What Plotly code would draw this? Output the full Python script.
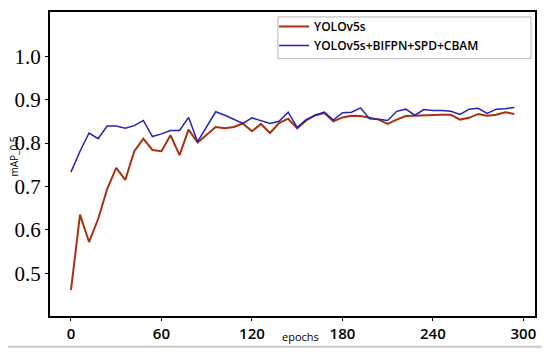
import plotly.graph_objects as go

epochs = [0, 6, 12, 18, 24, 30, 36, 42, 48, 54, 60, 66, 72, 78, 84, 90, 96, 102, 108, 114,
          120, 126, 132, 138, 144, 150, 156, 162, 168, 174, 180, 186, 192, 198, 204, 210, 216, 222, 228, 234,
          240, 246, 252, 258, 264, 270, 276, 282, 288, 294]

yolov5s = [0.461, 0.635, 0.572, 0.625, 0.694, 0.743, 0.715, 0.781, 0.810, 0.784,
           0.781, 0.818, 0.772, 0.831, 0.801, 0.820, 0.837, 0.834, 0.837, 0.845,
           0.827, 0.844, 0.823, 0.846, 0.856, 0.834, 0.852, 0.864, 0.869, 0.850,
           0.859, 0.863, 0.862, 0.858, 0.854, 0.844, 0.854, 0.862, 0.863, 0.863,
           0.865, 0.865, 0.865, 0.854, 0.858, 0.867, 0.863, 0.865, 0.871, 0.867]

improved = [0.733, 0.781, 0.823, 0.810, 0.839, 0.839, 0.834, 0.840, 0.852, 0.815,
            0.821, 0.829, 0.829, 0.859, 0.803, 0.838, 0.872, 0.864, 0.855, 0.845,
            0.858, 0.851, 0.845, 0.850, 0.871, 0.836, 0.854, 0.864, 0.871, 0.853,
            0.870, 0.871, 0.881, 0.856, 0.855, 0.852, 0.873, 0.878, 0.864, 0.877,
            0.875, 0.875, 0.873, 0.866, 0.878, 0.880, 0.868, 0.878, 0.879, 0.882]

x_ticks = [0, 60, 120, 180, 240, 300]
y_ticks = [0.5, 0.6, 0.7, 0.8, 0.9, 1.0]
y_tick_text = ["0.5", "0.6", "0.7", "0.8", "0.9", "1.0"]

fig = go.Figure()
fig.add_trace(go.Scatter(x=epochs, y=yolov5s, mode="lines", name="YOLOv5s",
                         line=dict(color="#a8320f", width=2)))
fig.add_trace(go.Scatter(x=epochs, y=improved, mode="lines", name="YOLOv5s+BIFPN+SPD+CBAM",
                         line=dict(color="#2323b4", width=1.5)))

# page body has an 8px margin, so the figure is laid out 8px up/left of the reference pixels
fig.update_layout(
    width=550, height=357,
    margin=dict(l=42, r=23, t=2, b=49),
    paper_bgcolor="white", plot_bgcolor="white",
    showlegend=True,
    legend=dict(x=0.462, y=1.0, xanchor="left", yanchor="top",
                bgcolor="rgba(0,0,0,0)", borderwidth=0,
                font=dict(family="Open Sans", size=12, color="black", weight=600),
                itemwidth=30, tracegroupgap=0),
)
fig.update_xaxes(range=[-13.9, 307.7], tickvals=x_ticks, ticks="outside", ticklen=3,
                 tickcolor="black", showline=True, linecolor="black", linewidth=2,
                 mirror=True, showgrid=False, zeroline=False,
                 tickfont=dict(family="Open Sans", size=15, color="black", weight=600))
fig.update_yaxes(range=[0.4016, 1.1018], tickvals=y_ticks, ticktext=y_tick_text,
                 ticks="outside", ticklen=3, tickcolor="black",
                 showline=True, linecolor="black", linewidth=2, mirror=True,
                 showgrid=False, zeroline=False,
                 tickfont=dict(family="Liberation Serif", size=21, color="black"))

fig.add_shape(type="rect", xref="paper", yref="paper", x0=0.470, x1=0.9918,
              y0=0.8464, y1=0.9837, line=dict(color="#b4b4b4", width=1),
              fillcolor="white", layer="above")

fig.add_annotation(text="mAP_0.5", xref="paper", yref="paper", x=-0.0732, y=0.526,
                   xanchor="center", yanchor="middle", borderpad=0,
                   textangle=-90, showarrow=False,
                   font=dict(family="Open Sans", size=10, color="black"))
fig.add_annotation(text="epochs", xref="paper", yref="paper", x=0.5155, y=-0.0686,
                   xanchor="center", yanchor="middle", showarrow=False,
                   font=dict(family="Open Sans", size=11, color="black"))

fig.add_shape(type="line", xref="paper", yref="paper", x0=-0.1, x1=1.0206,
              y0=-0.101, y1=-0.101, line=dict(color="#c8c8c8", width=2))
fig.add_shape(type="line", xref="paper", yref="paper", x0=1.0206, x1=1.0206,
              y0=-0.101, y1=1.03, line=dict(color="#c8c8c8", width=2))

fig.write_html("out.html")
